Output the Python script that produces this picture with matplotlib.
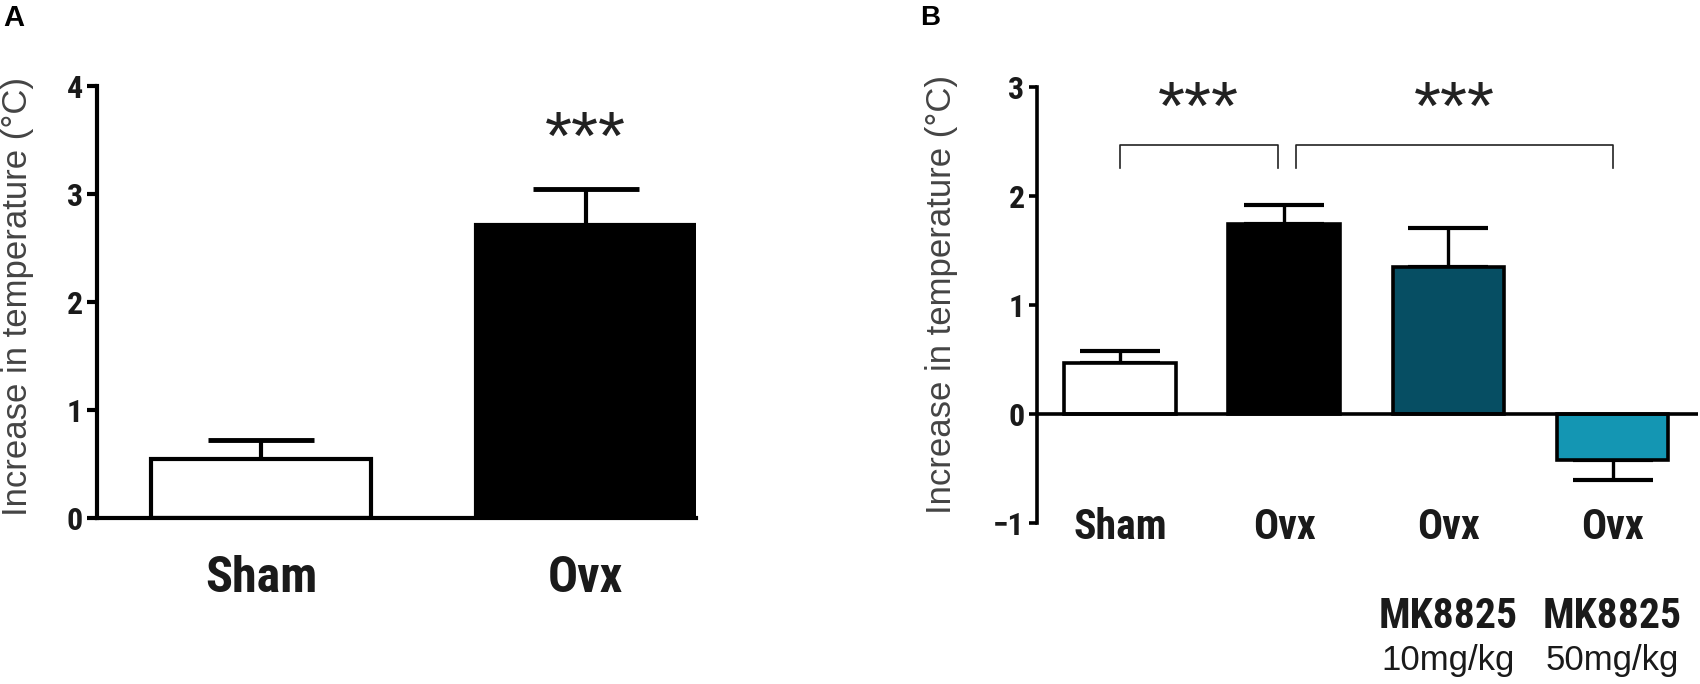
import matplotlib
matplotlib.use('Agg')
import matplotlib.pyplot as plt

# panel A data
a_groups = ['Sham', 'Ovx']
a_means = [0.55, 2.71]
a_errs = [0.17, 0.34]
a_colors = ['white', 'black']

# panel B data
b_groups = ['Sham', 'Ovx', 'Ovx', 'Ovx']
b_drug = ['', '', 'MK8825', 'MK8825']
b_dose = ['', '', '10mg/kg', '50mg/kg']
b_means = [0.47, 1.74, 1.35, -0.42]
b_errs = [0.11, 0.18, 0.36, 0.19]
b_colors = ['white', 'black', '#064e63', '#1496b3']

# significance brackets in panel B
brackets = [(0.0, 0.96), (1.07, 3.0)]
bracket_top = 2.47
bracket_bottom = 2.26

narrow = ['Roboto Condensed', 'Liberation Sans', 'DejaVu Sans']
plain = ['Liberation Sans', 'DejaVu Sans']
ink = '#1a1a1a'

fig = plt.figure(figsize=(17, 6.84), dpi=100)

# ---------- panel A ----------
ax = fig.add_axes([97 / 1700, 1 - 518 / 684, 599 / 1700, 432 / 684])
xa = list(range(len(a_groups)))
ax.bar(xa, a_means, width=0.675, color=a_colors, edgecolor='black', linewidth=3, zorder=2)
for x, m, e in zip(xa, a_means, a_errs):
    ax.errorbar(x, m, yerr=[[0], [e]], fmt='none', ecolor='black', elinewidth=3,
                capsize=38, capthick=3.5, zorder=1)
ax.set_xlim(-0.505, 1.34)
ax.set_ylim(0, 4)
ax.set_yticks([0, 1, 2, 3, 4])
ax.set_xticks([])
for s in ['top', 'right']:
    ax.spines[s].set_visible(False)
ax.spines['left'].set_linewidth(3)
ax.spines['bottom'].set_linewidth(3)
ax.tick_params(axis='y', length=7, width=3, pad=3, labelsize=23)
for lab in ax.get_yticklabels():
    lab.set_family(narrow)
    lab.set_weight('bold')
    lab.set_color(ink)
for x, g in zip(xa, a_groups):
    ax.text(x, -0.56, g, ha='center', va='center', fontsize=36, fontweight='bold',
            family=narrow, color=ink, clip_on=False)
ax.text(1, 3.49, '***', ha='center', va='center', fontsize=50, family=plain, color='#222222')
fig.text(18 / 1700, 1 - 296 / 684, 'Increase in temperature (°C)', rotation=90,
         ha='center', va='center', fontsize=25, family=plain, color='#444444')
fig.text(3 / 1700, 1 - 18 / 684, 'A', ha='left', va='center', fontsize=21,
         fontweight='bold', family=plain)

# ---------- panel B ----------
bx = fig.add_axes([1037 / 1700, 1 - 523 / 684, 661 / 1700, 436 / 684])
xb = list(range(len(b_groups)))
bx.bar(xb, b_means, width=0.68, color=b_colors, edgecolor='black', linewidth=2.6, zorder=2)
for x, m, e in zip(xb, b_means, b_errs):
    if m >= 0:
        yerr = [[0], [e]]
    else:
        yerr = [[e], [0]]
    bx.errorbar(x, m, yerr=yerr, fmt='none', ecolor='black', elinewidth=2.4,
                capsize=29, capthick=3, zorder=1)
bx.axhline(0, color='black', linewidth=2.6, zorder=3)
bx.set_xlim(-0.506, 3.52)
bx.set_ylim(-1, 3)
bx.set_yticks([-1, 0, 1, 2, 3])
bx.set_xticks([])
for s in ['top', 'right', 'bottom']:
    bx.spines[s].set_visible(False)
bx.spines['left'].set_linewidth(2.6)
bx.tick_params(axis='y', length=6, width=2.6, pad=3, labelsize=23)
for lab in bx.get_yticklabels():
    lab.set_family(narrow)
    lab.set_weight('bold')
    lab.set_color(ink)
for x, g, d, dose in zip(xb, b_groups, b_drug, b_dose):
    bx.text(x, -1.04, g, ha='center', va='center', fontsize=30, fontweight='bold',
            family=narrow, color=ink, clip_on=False)
    if d:
        bx.text(x, -1.86, d, ha='center', va='center', fontsize=30, fontweight='bold',
                family=narrow, color=ink, clip_on=False)
        bx.text(x, -2.26, dose, ha='center', va='center', fontsize=25,
                family=plain, color=ink, clip_on=False)
for x0, x1 in brackets:
    bx.plot([x0, x0, x1, x1], [bracket_bottom, bracket_top, bracket_top, bracket_bottom],
            color='#222222', linewidth=1.2, clip_on=False)
    bx.text((x0 + x1) / 2, 2.78, '***', ha='center', va='center', fontsize=50,
            family=plain, color='#222222')
fig.text(942 / 1700, 1 - 294 / 684, 'Increase in temperature (°C)', rotation=90,
         ha='center', va='center', fontsize=25, family=plain, color='#444444')
fig.text(920 / 1700, 1 - 18 / 684, 'B', ha='left', va='center', fontsize=20,
         fontweight='bold', family=plain)

fig.savefig('out.png', dpi=100)
